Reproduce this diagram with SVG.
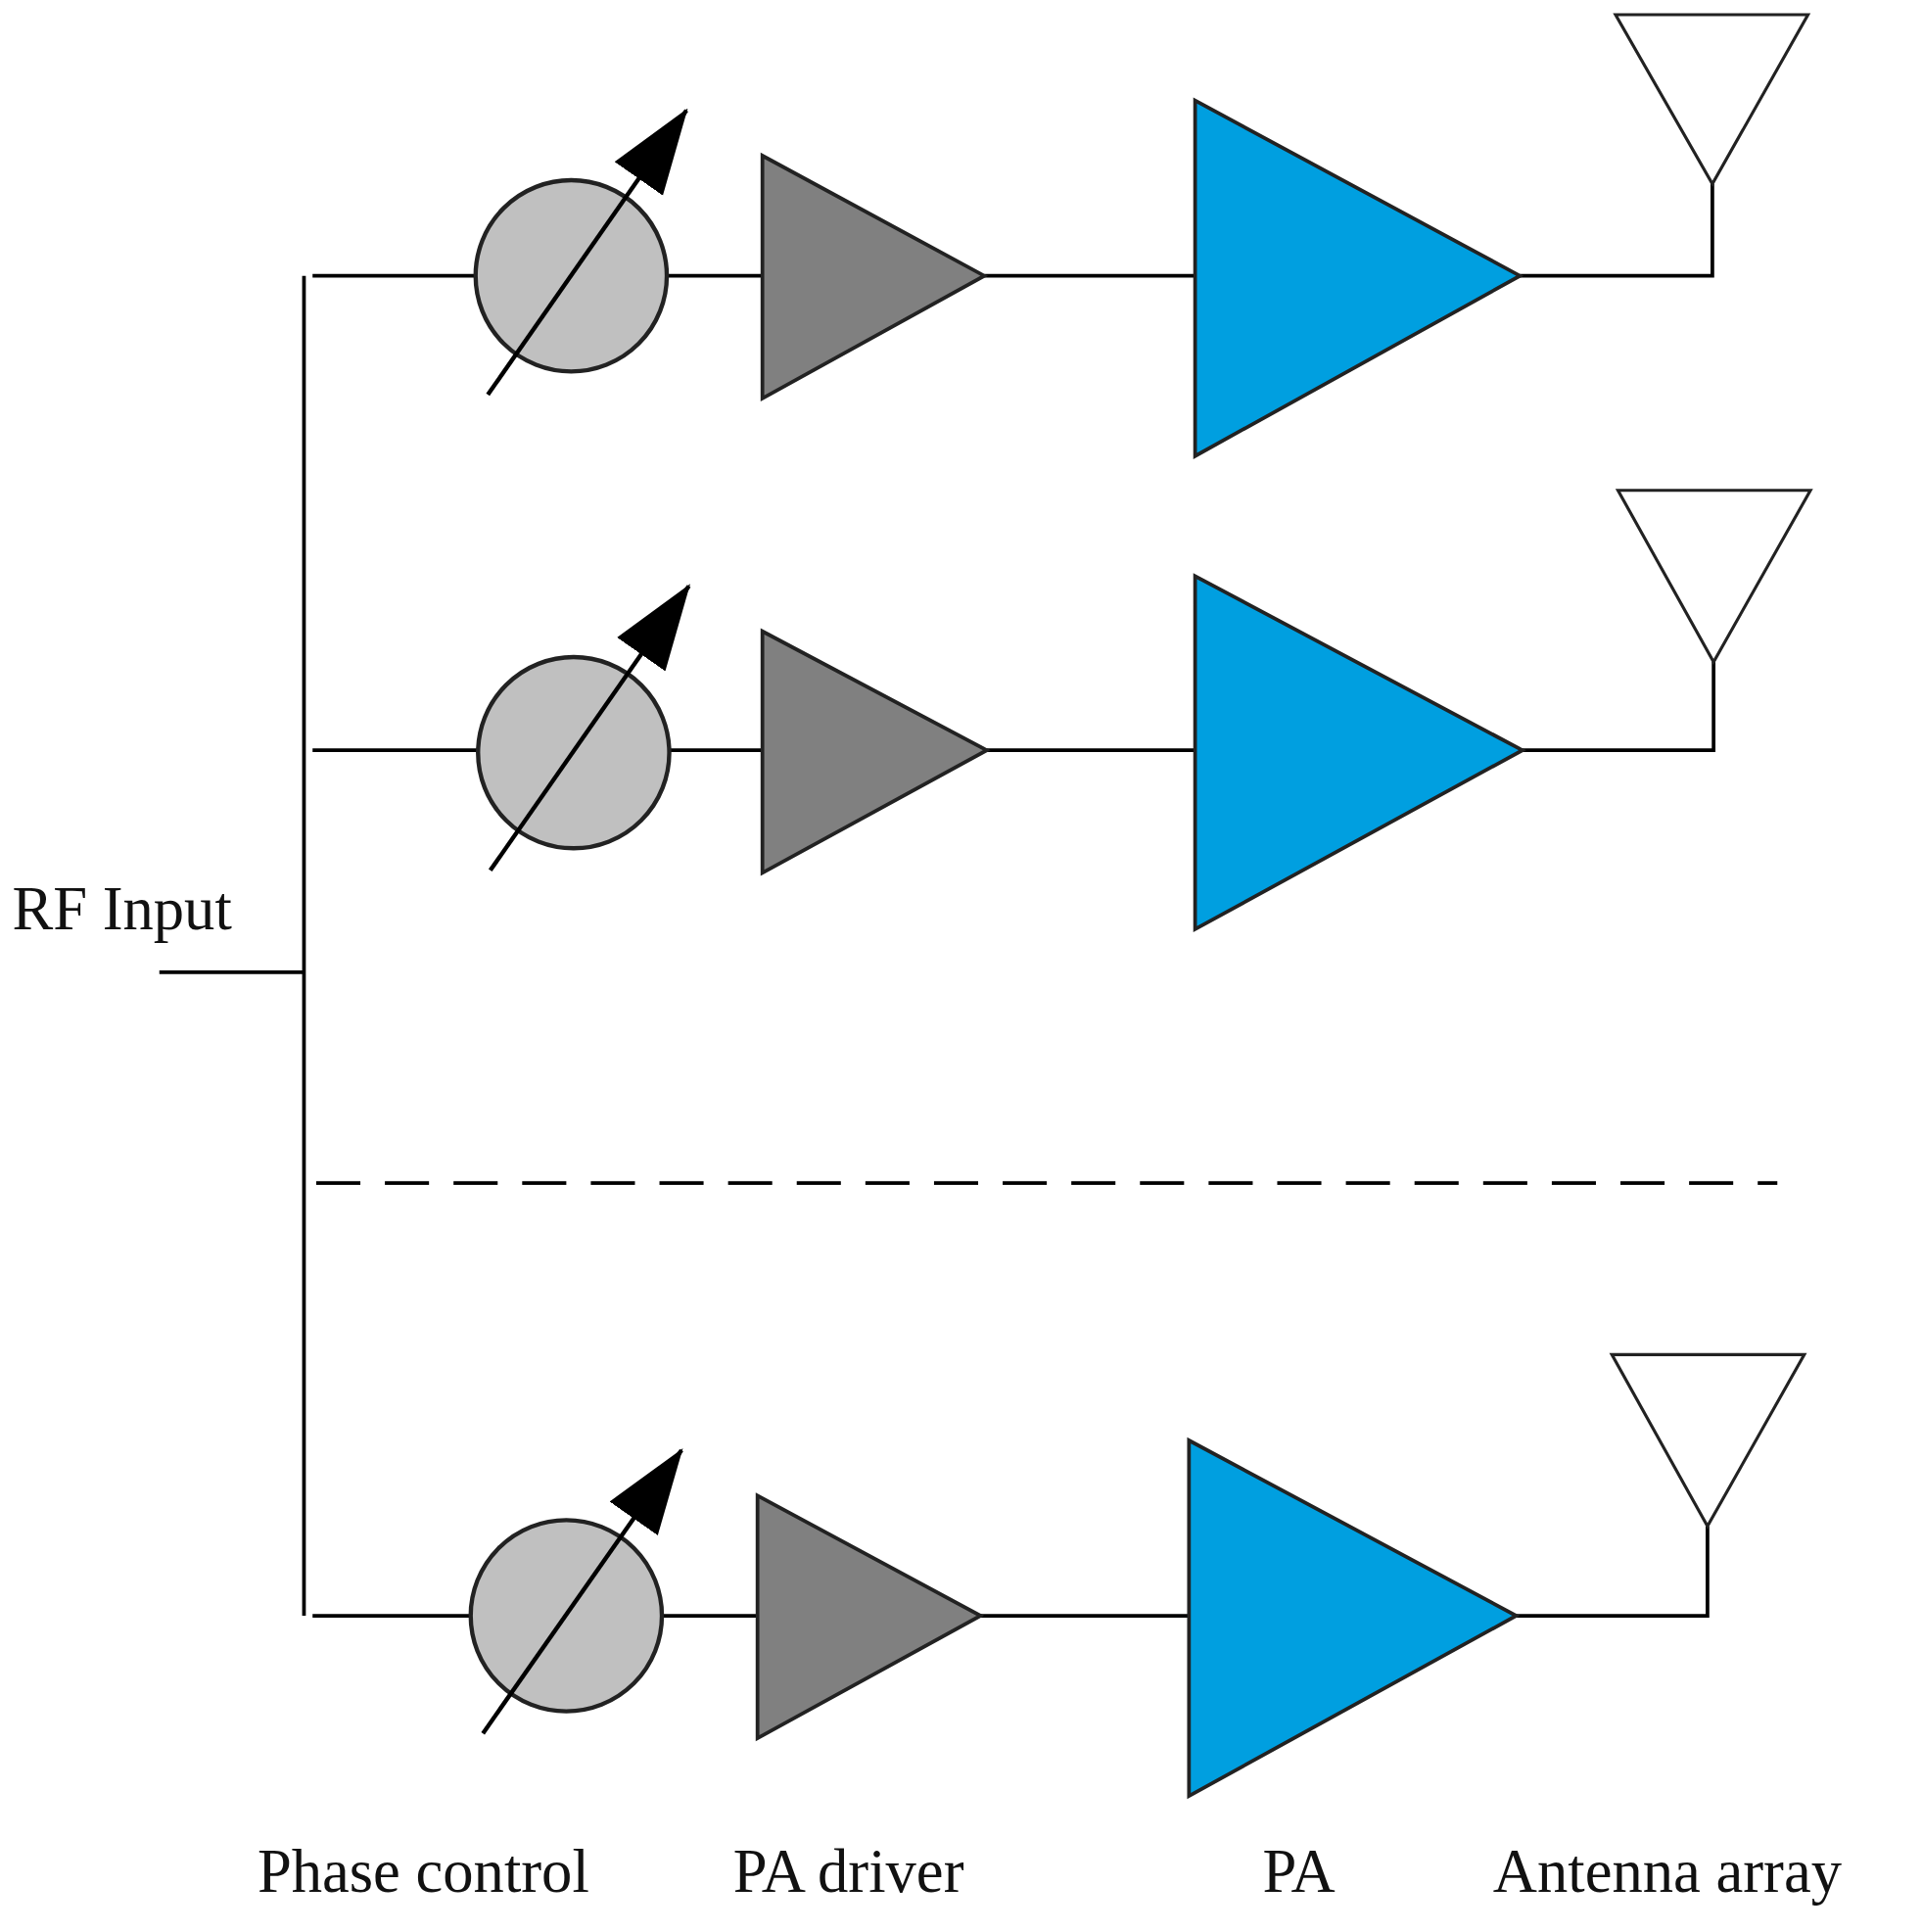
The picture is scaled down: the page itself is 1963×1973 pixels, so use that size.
<svg xmlns="http://www.w3.org/2000/svg" width="1963" height="1973" viewBox="0 0 1963 1973">
<style>
.w{stroke:#000;stroke-width:3;fill:none}
.pc{fill:#c0c0c0;stroke:#222;stroke-width:3.5}
.dr{fill:#808080;stroke:#222;stroke-width:3}
.pa{fill:#009fe0;stroke:#222;stroke-width:3}
.an{fill:#fff;stroke:#222;stroke-width:2.5}
.ar{stroke:#000;stroke-width:3.5;fill:none;marker-end:url(#ah)}
text{font-family:"Liberation Serif",serif;font-size:50px;fill:#111}
</style>
<defs>
<marker id="ah" markerUnits="userSpaceOnUse" markerWidth="70" markerHeight="60" viewBox="0 0 70 60" refX="68" refY="30" orient="auto"><path d="M0,6 L70,30 L0,54 Z" fill="#000"/></marker>
</defs>
<rect width="1963" height="1973" fill="#fff"/>
<g transform="scale(1.2519)">
<g id="connectors">
<path class="w" d="M130,793 H248 M248,225 V1318 M255,225 H390 M543,225 H622 M803,225 H975 M1240,225 H1397 V150 M255,612 H390 M545,612 H622 M805,612 H975 M1242,612 H1398 V540 M255,1318 H385 M540,1318 H618 M800,1318 H970 M1237,1318 H1393 V1245"/>
<path d="M258,965 H1450" stroke="#000" stroke-width="3" stroke-dasharray="36,20"/>
</g>
<g id="phase1"><circle class="pc" cx="466" cy="225" r="78"/><path class="ar" d="M398,322 L560,90"/></g>
<g id="phase2"><circle class="pc" cx="468" cy="614" r="78"/><path class="ar" d="M400,710 L562,478"/></g>
<g id="phase3"><circle class="pc" cx="462" cy="1318" r="78"/><path class="ar" d="M394,1414 L556,1183"/></g>
<g id="driver1"><polygon class="dr" points="622,127 622,325 803,225"/></g>
<g id="driver2"><polygon class="dr" points="622,515 622,712 805,612"/></g>
<g id="driver3"><polygon class="dr" points="618,1220 618,1418 800,1318"/></g>
<g id="pa1"><polygon class="pa" points="975,82 975,372 1240,225"/></g>
<g id="pa2"><polygon class="pa" points="975,470 975,758 1242,612"/></g>
<g id="pa3"><polygon class="pa" points="970,1175 970,1465 1237,1318"/></g>
<g id="ant1"><polygon class="an" points="1318,12 1475,12 1397,150"/></g>
<g id="ant2"><polygon class="an" points="1320,400 1477,400 1398,540"/></g>
<g id="ant3"><polygon class="an" points="1315,1105 1472,1105 1393,1245"/></g>
<g id="labels">
<text x="10" y="758">RF Input</text>
<text x="210" y="1543">Phase control</text>
<text x="598" y="1543">PA driver</text>
<text x="1030" y="1543">PA</text>
<text x="1218" y="1543">Antenna array</text>
</g>
</g>
</svg>
